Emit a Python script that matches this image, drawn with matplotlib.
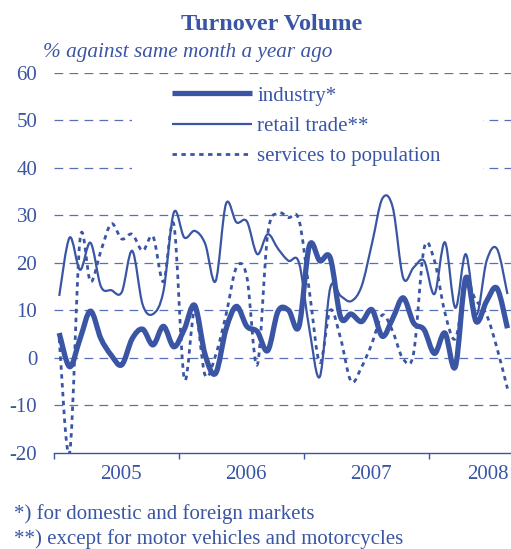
import numpy as np
import matplotlib
matplotlib.use("Agg")
import matplotlib.pyplot as plt
from matplotlib.path import Path
from matplotlib.patches import PathPatch, Rectangle
from matplotlib.lines import Line2D

plt.rcParams['font.family'] = ['Liberation Serif', 'DejaVu Serif']
plt.rcParams['axes.unicode_minus'] = False

# monthly data, Jan 2005 - Aug 2008, % against same month a year ago
industry = [5.2, -1.9, 4.0, 9.8, 4.0, 0.5, -1.5, 4.0, 6.0, 2.7, 6.6, 2.3,
            6.0, 11.0, 0.6, -3.3, 6.0, 10.8, 6.6, 5.5, 1.5, 9.8, 10.0, 6.6,
            23.6, 20.4, 21.0, 8.5, 9.2, 7.6, 10.1, 4.5, 8.3, 12.6, 7.3, 5.9,
            0.9, 5.2, -1.9, 16.8, 7.6, 11.9, 14.6, 6.2]
retail = [13.0, 25.3, 18.5, 24.2, 15.0, 14.2, 13.8, 22.5, 11.2, 9.2, 14.0, 30.6,
          25.3, 26.7, 24.0, 16.1, 32.4, 28.5, 28.7, 21.8, 26.0, 22.9, 20.4, 20.0,
          6.0, -4.0, 14.7, 13.0, 11.9, 15.0, 24.0, 33.5, 31.6, 16.8, 19.0, 20.4,
          13.4, 24.3, 10.5, 21.8, 9.0, 20.4, 22.9, 13.4]
services = [4.0, -20.0, 25.0, 16.0, 22.5, 28.2, 25.0, 26.0, 22.5, 25.5, 16.0, 28.0,
            -4.4, 10.0, -3.7, 0.5, 9.0, 19.0, 17.0, -1.5, 26.0, 30.4, 29.5, 29.0,
            14.0, -1.0, 10.0, 4.0, -5.0, -2.0, 3.0, 9.0, 5.5, -0.3, 1.0, 23.0,
            20.4, 9.5, 4.0, 15.0, 12.0, 9.0, 2.0, -6.5]
years = ["2005", "2006", "2007", "2008"]
labels = ["industry*", "retail trade**", "services to population"]

blue = "#3A55A4"
grid_blue = "#5570B5"


def smooth_path(values):
    # Excel-like smoothed line: cubic bezier through every monthly point
    pts = np.column_stack([np.arange(len(values)), values]).astype(float)
    n = len(pts)
    verts = [pts[0]]
    codes = [Path.MOVETO]
    for i in range(n - 1):
        p0 = pts[i - 1] if i > 0 else pts[i]
        p1 = pts[i]
        p2 = pts[i + 1]
        p3 = pts[i + 2] if i + 2 < n else pts[i + 1]
        verts += [p1 + (p2 - p0) / 6, p2 - (p3 - p1) / 6, p2]
        codes += [Path.CURVE4] * 3
    return Path(verts, codes)


W, H = 511, 549
fig = plt.figure(figsize=(W / 100, H / 100), dpi=100)
ax = fig.add_axes([54 / W, 1 - 452.7 / H, 1 - 54 / W, (452.7 - 72.7) / H])

styles = [dict(lw=3.8, ls="-"), dict(lw=1.6, ls="-"), dict(lw=2.0, ls=(0, (1.6, 1.6)))]
for series, st in zip([industry, retail, services], styles):
    ax.add_patch(PathPatch(smooth_path(series), fill=False, edgecolor=blue,
                           lw=st["lw"], linestyle=st["ls"], capstyle="butt",
                           joinstyle="round", zorder=3))

ax.set_xlim(-0.5, 43.34)
ax.set_ylim(-20, 60)
ax.set_yticks(range(-20, 61, 10))
for v in range(-10, 61, 10):
    ax.axhline(v, color=grid_blue, lw=0.9, ls=(0, (7, 5)), zorder=1)

for s in ["left", "right", "top"]:
    ax.spines[s].set_visible(False)
ax.spines["bottom"].set_color(blue)
ax.spines["bottom"].set_linewidth(1.0)

ax.set_xticks([-0.5, 11.5, 23.5, 35.5])
ax.set_xticklabels([])
ax.set_xticks([5.9, 17.9, 29.9, 41.1], minor=True)
ax.set_xticklabels(years, minor=True)
ax.tick_params(axis="x", which="major", direction="out", length=4, width=1, color=blue)
ax.tick_params(axis="x", which="minor", length=0, pad=9, labelsize=15, labelcolor=blue)
ax.tick_params(axis="y", length=0, pad=12, labelsize=15, labelcolor=blue)

# white legend background hiding the gridlines
ax.add_patch(Rectangle((132 / W, 1 - 174 / H), (483 - 132) / W, (174 - 82) / H,
                       transform=fig.transFigure, facecolor="white", edgecolor="none",
                       zorder=2))

handles = [Line2D([], [], color=blue, lw=st["lw"], ls=st["ls"], solid_capstyle="butt",
                  dash_capstyle="butt") for st in styles]
leg = ax.legend(handles, labels, loc="upper left",
                bbox_to_anchor=(172 / W, 1 - 86 / H), bbox_transform=fig.transFigure,
                frameon=False, fontsize=15, handlelength=3.85, handletextpad=0.25,
                labelspacing=0.52, borderpad=0, borderaxespad=0)
for t in leg.get_texts():
    t.set_color(blue)
leg.set_zorder(4)

fig.text(272 / W, 1 - 24 / H, "Turnover Volume", ha="center", va="center",
         fontsize=17.5, fontweight="bold", color=blue)
fig.text(43 / W, 1 - 53 / H, "% against same month a year ago", ha="left",
         va="center", fontsize=15.3, style="italic", color=blue)
fig.text(14 / W, 1 - 514 / H, "*) for domestic and foreign markets", ha="left",
         va="center", fontsize=15, color=blue)
fig.text(14 / W, 1 - 539 / H, "**) except for motor vehicles and motorcycles",
         ha="left", va="center", fontsize=15, color=blue)

fig.savefig("out.png", dpi=100)
